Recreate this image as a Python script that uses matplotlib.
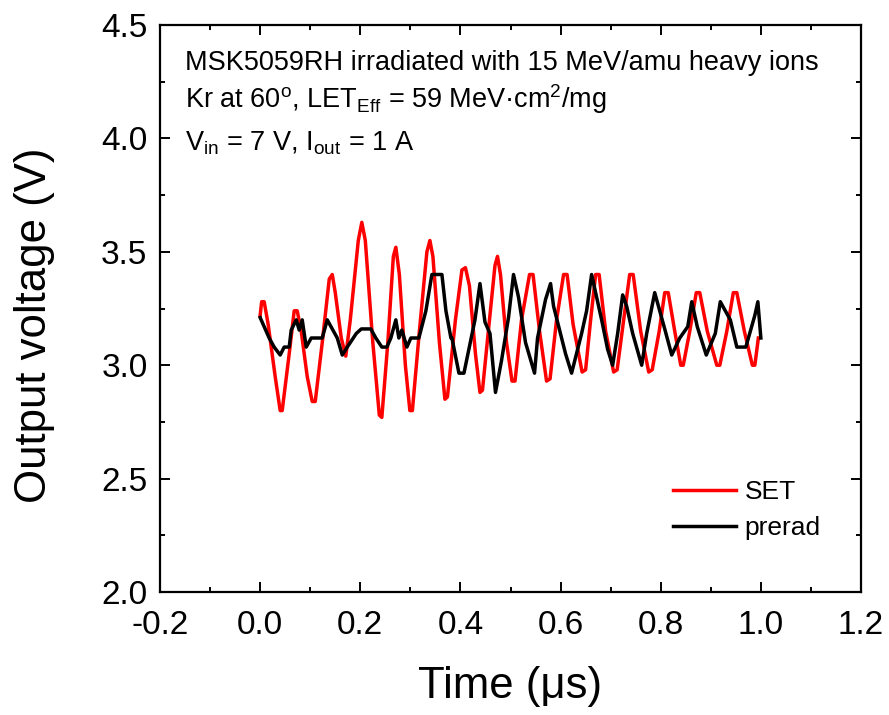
import matplotlib
matplotlib.use("Agg")
import matplotlib.pyplot as plt
from matplotlib.ticker import MultipleLocator

plt.rcParams["font.family"] = ["Liberation Sans", "DejaVu Sans"]
plt.rcParams["mathtext.fontset"] = "custom"
plt.rcParams["mathtext.rm"] = "Liberation Sans"
plt.rcParams["mathtext.it"] = "Liberation Sans:italic"

# SET waveform (red)
set_time = [0.000, 0.003, 0.008, 0.016, 0.030, 0.040, 0.044, 0.058, 0.068, 0.074,
            0.082, 0.094, 0.104, 0.110, 0.124, 0.138, 0.144, 0.150, 0.162, 0.171,
            0.180, 0.196, 0.203, 0.210, 0.225, 0.238, 0.243, 0.255, 0.266, 0.271,
            0.278, 0.290, 0.299, 0.304, 0.318, 0.333, 0.339, 0.345, 0.358, 0.369,
            0.374, 0.390, 0.403, 0.410, 0.418, 0.430, 0.439, 0.444, 0.458, 0.469,
            0.474, 0.480, 0.492, 0.503, 0.509, 0.522, 0.538, 0.545, 0.558, 0.572,
            0.579, 0.592, 0.606, 0.613, 0.625, 0.643, 0.650, 0.660, 0.670, 0.677,
            0.690, 0.706, 0.713, 0.726, 0.738, 0.745, 0.760, 0.776, 0.783, 0.797,
            0.808, 0.815, 0.828, 0.840, 0.845, 0.858, 0.871, 0.878, 0.893, 0.912,
            0.918, 0.932, 0.945, 0.952, 0.967, 0.983, 0.988, 0.995]
set_volt = [3.22, 3.28, 3.28, 3.18, 2.95, 2.80, 2.80, 3.05, 3.24, 3.24,
            3.15, 2.95, 2.84, 2.84, 3.10, 3.38, 3.40, 3.32, 3.12, 3.04,
            3.20, 3.55, 3.63, 3.55, 3.10, 2.78, 2.77, 3.10, 3.48, 3.52,
            3.40, 3.00, 2.80, 2.80, 3.15, 3.50, 3.55, 3.48, 3.10, 2.85,
            2.86, 3.20, 3.42, 3.43, 3.35, 3.05, 2.88, 2.89, 3.20, 3.44,
            3.48, 3.40, 3.10, 2.93, 2.93, 3.20, 3.40, 3.40, 3.15, 2.93,
            2.94, 3.20, 3.40, 3.40, 3.18, 2.97, 2.98, 3.20, 3.40, 3.40,
            3.15, 2.97, 2.98, 3.20, 3.40, 3.40, 3.15, 2.97, 2.98, 3.15,
            3.32, 3.32, 3.15, 3.00, 3.00, 3.15, 3.32, 3.32, 3.15, 3.00,
            3.00, 3.15, 3.32, 3.32, 3.15, 3.00, 3.00, 3.12]

# pre-irradiation waveform (black)
pre_time = [0.000, 0.008, 0.018, 0.028, 0.040, 0.048, 0.058, 0.062, 0.072,
            0.078, 0.084, 0.092, 0.102, 0.108, 0.124, 0.134, 0.144, 0.154,
            0.164, 0.174, 0.192, 0.202, 0.221, 0.231, 0.243, 0.253, 0.261,
            0.271, 0.277, 0.283, 0.293, 0.301, 0.317, 0.331, 0.343, 0.363,
            0.367, 0.371, 0.381, 0.383, 0.397, 0.407, 0.429, 0.439, 0.449,
            0.459, 0.470, 0.482, 0.496, 0.506, 0.516, 0.530, 0.548, 0.554,
            0.570, 0.580, 0.586, 0.610, 0.622, 0.642, 0.652, 0.662, 0.682,
            0.694, 0.704, 0.714, 0.724, 0.732, 0.744, 0.762, 0.772, 0.788,
            0.798, 0.808, 0.822, 0.838, 0.854, 0.862, 0.873, 0.891, 0.909,
            0.919, 0.939, 0.952, 0.970, 0.988, 0.994, 1.000]
pre_volt = [3.21, 3.17, 3.12, 3.08, 3.045, 3.08, 3.08, 3.155, 3.20,
            3.155, 3.20, 3.08, 3.12, 3.12, 3.12, 3.20, 3.16, 3.12,
            3.045, 3.08, 3.14, 3.16, 3.16, 3.12, 3.08, 3.08, 3.12,
            3.20, 3.12, 3.155, 3.08, 3.12, 3.12, 3.24, 3.40, 3.40,
            3.32, 3.24, 3.12, 3.12, 2.965, 2.965, 3.20, 3.36, 3.19,
            3.14, 2.88, 3.02, 3.21, 3.40, 3.30, 3.10, 2.965, 3.12,
            3.29, 3.36, 3.26, 3.05, 2.965, 3.14, 3.24, 3.40, 3.20,
            3.07, 3.00, 3.14, 3.31, 3.26, 3.14, 3.00, 3.14, 3.32,
            3.24, 3.16, 3.045, 3.12, 3.17, 3.28, 3.17, 3.045, 3.14,
            3.28, 3.20, 3.08, 3.08, 3.22, 3.28, 3.12]

annotation_lines = [
    "MSK5059RH irradiated with 15 MeV/amu heavy ions",
    r"Kr at 60$^{\mathrm{o}}$, LET$_{\mathrm{Eff}}$ = 59 MeV·cm$^{\mathrm{2}}$/mg",
    r"V$_{\mathrm{in}}$ = 7 V, I$_{\mathrm{out}}$ = 1 A",
]

fig = plt.figure(figsize=(8.89, 7.15), dpi=100)
ax = fig.add_axes([0.18, 0.172, 0.7885, 0.793])

ax.plot(set_time, set_volt, color="#ff0000", lw=2.5, label="SET")
ax.plot(pre_time, pre_volt, color="black", lw=2.5, label="prerad")

ax.set_xlim(-0.2, 1.2)
ax.set_ylim(2.0, 4.5)
ax.xaxis.set_major_locator(MultipleLocator(0.2))
ax.xaxis.set_minor_locator(MultipleLocator(0.1))
ax.yaxis.set_major_locator(MultipleLocator(0.5))
ax.yaxis.set_minor_locator(MultipleLocator(0.25))
ax.xaxis.set_major_formatter(plt.FuncFormatter(lambda v, p: f"{v:.1f}"))
ax.yaxis.set_major_formatter(plt.FuncFormatter(lambda v, p: f"{v:.1f}"))

ax.tick_params(which="both", direction="in", top=True, right=True, width=1.4)
ax.tick_params(which="major", length=7, labelsize=24, pad=9)
ax.tick_params(axis="x", which="major", pad=13)
ax.tick_params(which="minor", length=3.5)
for s in ax.spines.values():
    s.set_linewidth(1.6)

ax.set_xlabel("Time (μs)", fontsize=31.5)
ax.set_ylabel("Output voltage (V)", fontsize=31.5)
ax.xaxis.set_label_coords(0.499, -0.130)
ax.yaxis.set_label_coords(-0.150, 0.471)

for txt, yy in zip(annotation_lines, [0.9206, 0.8536, 0.7795]):
    ax.text(0.036, yy, txt, transform=ax.transAxes, fontsize=19.5, va="baseline", ha="left")

ax.legend(loc="upper left", bbox_to_anchor=(0.732, 0.197), frameon=False,
          fontsize=19, handlelength=2.4, handletextpad=0.3, labelspacing=0.45,
          borderpad=0, borderaxespad=0)

fig.savefig("out.png", dpi=100)
